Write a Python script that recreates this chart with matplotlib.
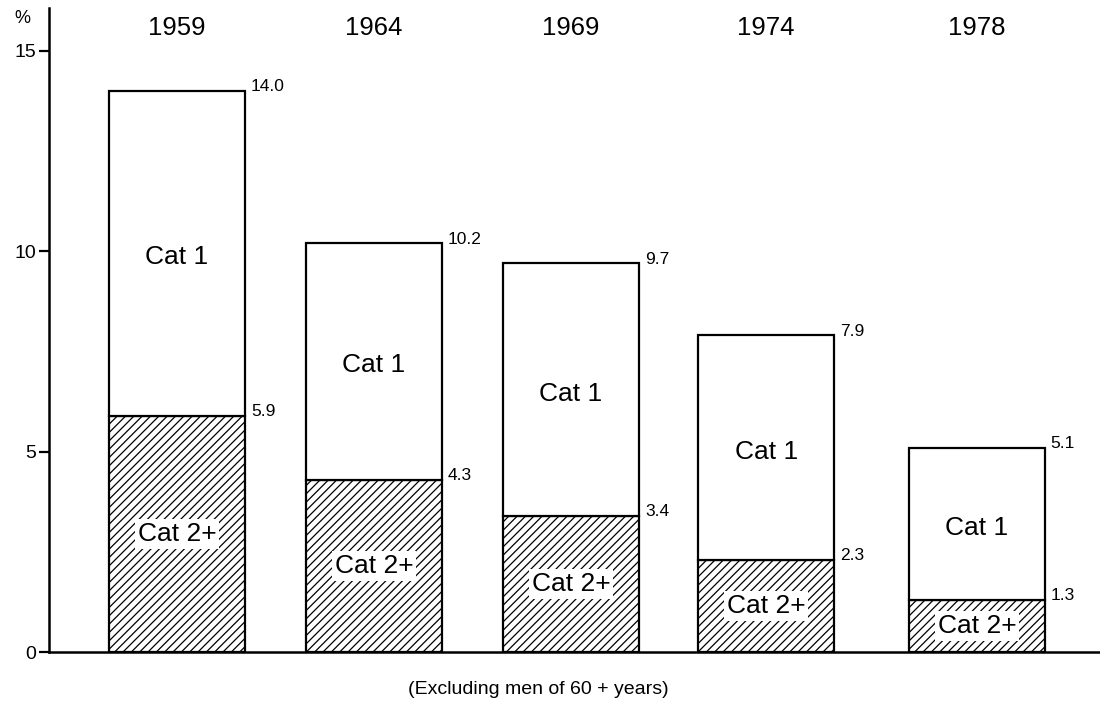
import matplotlib
matplotlib.use("Agg")
import matplotlib.pyplot as plt

# data
years = ["1959", "1964", "1969", "1974", "1978"]
cat2_plus = [5.9, 4.3, 3.4, 2.3, 1.3]
total = [14.0, 10.2, 9.7, 7.9, 5.1]
y_ticks = [0, 5, 10, 15]

plt.rcParams['font.family'] = ['Liberation Sans', 'DejaVu Sans']
plt.rcParams['hatch.linewidth'] = 0.9

fig = plt.figure(figsize=(11, 7.01), dpi=100)
ax = fig.add_axes([0.0445, 0.0699, 0.9555, 0.9187])

# bar centres (the 1978 bar sits a little further out)
pos = [0, 1, 2, 2.99, 4.06]
width = 0.69
cat1 = [t - c for t, c in zip(total, cat2_plus)]

ax.bar(pos, cat2_plus, width, color='white', edgecolor='black',
       hatch='////', linewidth=1.6)
ax.bar(pos, cat1, width, bottom=cat2_plus, color='white',
       edgecolor='black', linewidth=1.6)

for i, x in enumerate(pos):
    right = x + width / 2 + 0.03
    ax.text(right, total[i] + 0.1, f"{total[i]:.1f}", fontsize=12.5,
            ha='left', va='center')
    ax.text(right, cat2_plus[i] + 0.1, f"{cat2_plus[i]:.1f}", fontsize=12.5,
            ha='left', va='center')
    ax.text(x, cat2_plus[i] + cat1[i] / 2 - 0.1, "Cat 1", fontsize=19,
            ha='center', va='center')
    ax.text(x, cat2_plus[i] / 2, "Cat 2+", fontsize=19, ha='center',
            va='center',
            bbox=dict(facecolor='white', edgecolor='none', pad=2.0))
    ax.text(x, 15.58, years[i], fontsize=18.5, ha='center', va='center')

ax.set_xlim(-0.65, 4.685)
ax.set_ylim(0, 16.07)
ax.set_xticks([])
ax.set_yticks(y_ticks)
ax.set_yticklabels([str(v) for v in y_ticks], fontsize=14)
ax.tick_params(axis='y', direction='out', length=7, width=1.6, pad=2)

for s in ['top', 'right']:
    ax.spines[s].set_visible(False)
ax.spines['left'].set_linewidth(1.8)
ax.spines['bottom'].set_linewidth(1.8)

fig.text(0.02, 0.973, "%", fontsize=13, ha='center', va='center')
fig.text(0.371, 0.016, "(Excluding men of 60 + years)", fontsize=14,
         ha='left', va='center')

fig.savefig("out.png", dpi=100)
